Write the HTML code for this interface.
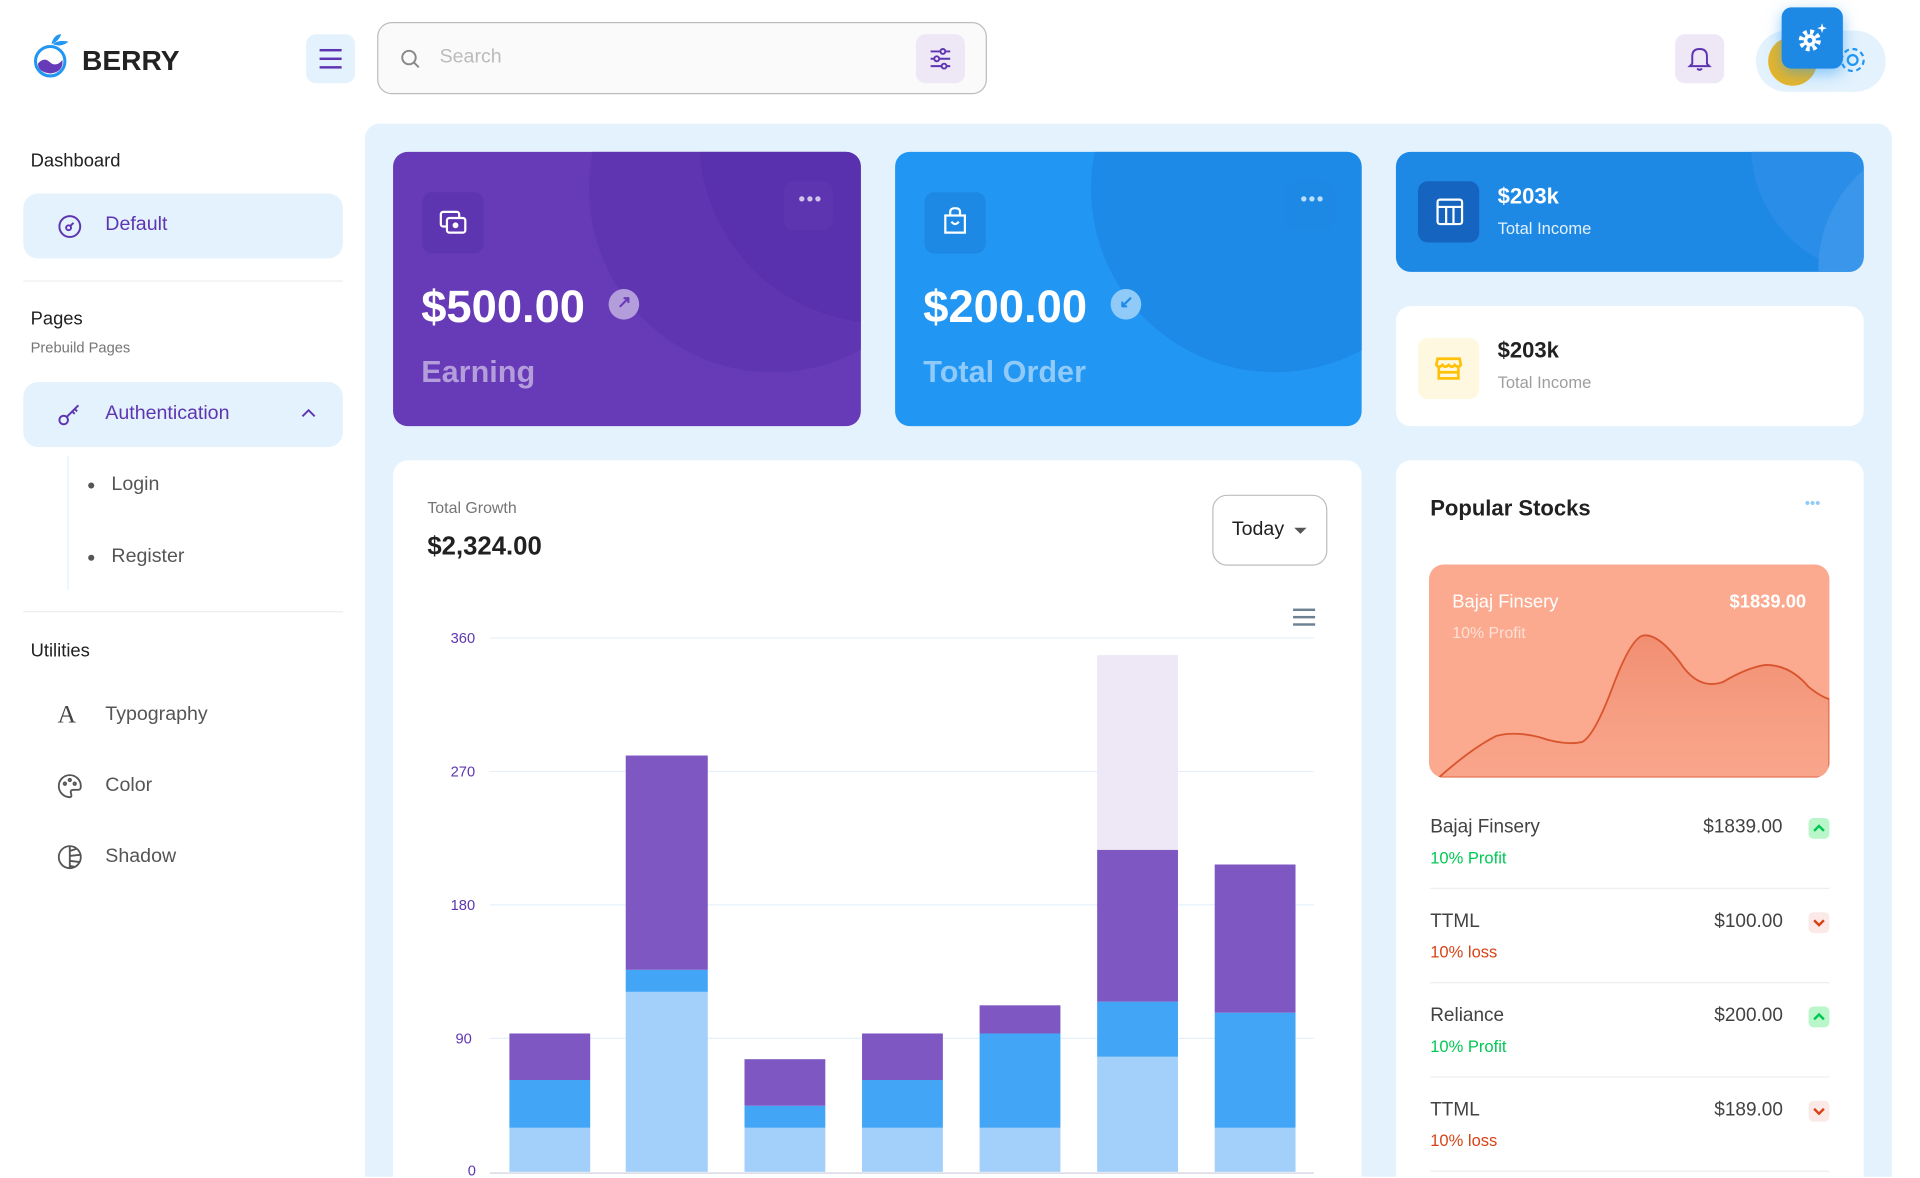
<!DOCTYPE html>
<html><head><meta charset="utf-8">
<style>
*{box-sizing:border-box;margin:0;padding:0}
html,body{width:1920px;height:1178px;overflow:hidden;background:#fff;font-family:"Liberation Sans",Arial,sans-serif}
#w{position:absolute;left:0;top:0;width:1568px;height:962px;overflow:hidden;transform:scale(1.2245);transform-origin:0 0}
.a{position:absolute}
.t{position:absolute;white-space:nowrap}
</style></head><body><div id="w">
<!-- header -->
<svg class="a" style="left:26px;top:26px" width="36" height="40" viewBox="0 0 36 40">
<circle cx="15" cy="24" r="12" fill="#fff" stroke="#2196f3" stroke-width="2.5"/>
<path d="M5 26 Q10 20 15 25 Q20 29 25 23 Q26 33 15 34 Q5 33 5 26Z" fill="#673ab7"/>
<path d="M16 10 Q18 2 24 2 Q22 8 16 10Z M17 10 Q22 6 30 8 Q24 13 17 10Z" fill="#2196f3"/>
</svg>
<div class="t" style="left:67px;top:36px;font-size:23px;font-weight:bold;color:#222">BERRY</div>
<div class="a" style="left:250px;top:28px;width:40px;height:40px;border-radius:8px;background:#e3f2fd"></div>
<div class="a" style="left:261px;top:40px;width:18px;height:2px;background:#5e35b1;box-shadow:0 7px 0 #5e35b1,0 14px 0 #5e35b1"></div>
<div class="a" style="left:308px;top:18px;width:498px;height:59px;border:1.5px solid #bdbdbd;border-radius:12px;background:#fafafa"></div>
<svg class="a" style="left:326px;top:39px" width="18" height="18"><circle cx="8" cy="8" r="5.5" fill="none" stroke="#888" stroke-width="1.6"/><path d="M12 12 L16 16" stroke="#888" stroke-width="1.6"/></svg>
<div class="t" style="left:359px;top:38px;font-size:16px;color:#bbb">Search</div>
<div class="a" style="left:748px;top:28px;width:40px;height:40px;border-radius:8px;background:#ede7f6"></div>
<svg class="a" style="left:758px;top:38px" width="20" height="20" stroke="#5e35b1" stroke-width="1.6" fill="none"><path d="M2 4H18M2 10H18M2 16H18"/><circle cx="12" cy="4" r="2" fill="#ede7f6"/><circle cx="7" cy="10" r="2" fill="#ede7f6"/><circle cx="13" cy="16" r="2" fill="#ede7f6"/></svg>
<div class="a" style="left:1368px;top:28px;width:40px;height:40px;border-radius:8px;background:#ede7f6"></div>
<svg class="a" style="left:1378px;top:37px" width="20" height="22" fill="none" stroke="#5e35b1" stroke-width="1.6"><path d="M4 15 V9 Q4 3 10 3 Q16 3 16 9 V15 L18 17 H2 Z"/><path d="M8 19 Q10 21 12 19"/></svg>
<div class="a" style="left:1434px;top:25px;width:106px;height:50px;border-radius:25px;background:#e3f2fd"></div>
<div class="a" style="left:1444px;top:30px;width:40px;height:40px;border-radius:50%;background:#e7b529"></div>
<svg class="a" style="left:1500px;top:36px" width="26" height="26" fill="none" stroke="#2196f3" stroke-width="1.8"><circle cx="13" cy="13" r="4"/><circle cx="13" cy="13" r="9" stroke-dasharray="4 3"/></svg>
<div class="a" style="left:1455px;top:6px;width:50px;height:50px;border-radius:8px;background:#1e88e5;box-shadow:0 4px 12px rgba(33,150,243,.5)"></div>
<svg class="a" style="left:1466px;top:17px" width="28" height="28"><circle cx="12" cy="16" r="7" fill="none" stroke="#fff" stroke-width="4" stroke-dasharray="3 2.5"/><circle cx="12" cy="16" r="5" fill="#fff"/><circle cx="12" cy="16" r="2" fill="#1e88e5"/><path d="M22 2 L23 5 L26 6 L23 7 L22 10 L21 7 L18 6 L21 5Z" fill="#fff"/></svg>

<!-- sidebar -->
<div class="t" style="left:25px;top:123px;font-size:15px;color:#212121">Dashboard</div>
<div class="a" style="left:19px;top:158px;width:261px;height:53px;border-radius:12px;background:#e3f2fd"></div>
<svg class="a" style="left:46px;top:174px" width="22" height="22" fill="none" stroke="#5e35b1" stroke-width="1.6"><circle cx="11" cy="11" r="8.5"/><circle cx="10" cy="12" r="2"/><path d="M11 11 L14 8"/></svg>
<div class="t" style="left:86px;top:175px;font-size:16px;color:#5e35b1">Default</div>
<div class="a" style="left:19px;top:229px;width:261px;height:1px;background:#eee"></div>
<div class="t" style="left:25px;top:252px;font-size:15px;color:#212121">Pages</div>
<div class="t" style="left:25px;top:277px;font-size:12px;color:#757575">Prebuild Pages</div>
<div class="a" style="left:19px;top:312px;width:261px;height:53px;border-radius:12px;background:#e3f2fd"></div>
<svg class="a" style="left:46px;top:327px" width="22" height="22" fill="none" stroke="#5e35b1" stroke-width="1.6"><circle cx="6" cy="16" r="3.5"/><path d="M8.5 13.5 L18 4 M15 7 L17 9 M13 9 L15 11"/></svg>
<div class="t" style="left:86px;top:329px;font-size:16px;color:#5e35b1">Authentication</div>
<svg class="a" style="left:246px;top:333px" width="12" height="10" fill="none" stroke="#5e35b1" stroke-width="1.6"><path d="M1 7 L6 2 L11 7"/></svg>
<div class="a" style="left:55px;top:372px;width:1px;height:110px;background:#e3f2fd"></div>
<div class="a" style="left:72px;top:394px;width:5px;height:5px;border-radius:50%;background:#555"></div>
<div class="t" style="left:91px;top:387px;font-size:16px;color:#555">Login</div>
<div class="a" style="left:72px;top:453px;width:5px;height:5px;border-radius:50%;background:#555"></div>
<div class="t" style="left:91px;top:446px;font-size:16px;color:#555">Register</div>
<div class="a" style="left:19px;top:499px;width:261px;height:1px;background:#eee"></div>
<div class="t" style="left:25px;top:523px;font-size:15px;color:#212121">Utilities</div>
<div class="t" style="left:47px;top:571px;font-size:21px;color:#444;font-family:'Liberation Serif',serif">A</div>
<div class="t" style="left:86px;top:575px;font-size:16px;color:#555">Typography</div>
<svg class="a" style="left:46px;top:631px" width="22" height="22" fill="none" stroke="#555" stroke-width="1.5"><path d="M11 2 A9 9 0 1 0 11 20 Q13 20 12 17 Q11 14 14 14 H18 Q20 14 20 11 A9 9 0 0 0 11 2Z"/><circle cx="7" cy="9" r="1"/><circle cx="11" cy="6" r="1"/><circle cx="15" cy="9" r="1"/></svg>
<div class="t" style="left:86px;top:633px;font-size:16px;color:#555">Color</div>
<svg class="a" style="left:46px;top:689px" width="22" height="22" fill="none" stroke="#555" stroke-width="1.5"><circle cx="11" cy="11" r="9"/><path d="M11 2 V20 M11 6 L17 4 M11 10 L20 9 M11 14 L19 15 M11 18 L15 19"/></svg>
<div class="t" style="left:86px;top:691px;font-size:16px;color:#555">Shadow</div>

<!-- main -->
<div class="a" style="left:298px;top:101px;width:1247px;height:860px;border-radius:12px 12px 0 0;background:#e3f2fd"></div>

<!-- earning card -->
<div class="a" style="left:321px;top:124px;width:382px;height:224px;border-radius:12px;background:#673ab7;overflow:hidden">
 <div class="a" style="left:160px;top:-120px;width:300px;height:300px;border-radius:50%;background:#5e35b1;opacity:.9"></div>
 <div class="a" style="left:250px;top:-160px;width:300px;height:300px;border-radius:50%;background:#512da8;opacity:.4"></div>
 <div class="a" style="left:24px;top:33px;width:50px;height:50px;border-radius:8px;background:#5e35b1"></div>
 <svg class="a" style="left:37px;top:46px" width="24" height="24" fill="none" stroke="#fff" stroke-width="1.8"><rect x="2" y="3" width="15" height="12" rx="2"/><rect x="7" y="8" width="15" height="12" rx="2" fill="#5e35b1"/><circle cx="14" cy="14" r="1.5" fill="#fff"/></svg>
 <div class="a" style="left:319px;top:24px;width:40px;height:40px;border-radius:8px;background:#5e35b1"></div>
 <div class="t" style="left:331px;top:31px;font-size:16px;color:#d1c4e9;letter-spacing:1px">•••</div>
 <div class="t" style="left:23px;top:106px;font-size:37px;font-weight:bold;color:#fff">$500.00</div>
 <div class="a" style="left:176px;top:112px;width:25px;height:25px;border-radius:50%;background:#b39ddb"></div>
 <div class="t" style="left:183px;top:114px;font-size:14px;color:#673ab7;font-weight:bold">↗</div>
 <div class="t" style="left:23px;top:166px;font-size:25px;font-weight:bold;color:#b39ddb">Earning</div>
</div>

<!-- order card -->
<div class="a" style="left:731px;top:124px;width:381px;height:224px;border-radius:12px;background:#2196f3;overflow:hidden">
 <div class="a" style="left:160px;top:-120px;width:300px;height:300px;border-radius:50%;background:#1e88e5;opacity:.9"></div>
 <div class="a" style="left:24px;top:33px;width:50px;height:50px;border-radius:8px;background:#1e88e5"></div>
 <svg class="a" style="left:37px;top:44px" width="24" height="26" fill="none" stroke="#fff" stroke-width="1.8"><path d="M4 8 H20 V22 H4 Z M8 8 V5 Q8 2 12 2 Q16 2 16 5 V8 M9 13 Q12 17 15 13"/></svg>
 <div class="a" style="left:319px;top:24px;width:40px;height:40px;border-radius:8px;background:#1e88e5"></div>
 <div class="t" style="left:331px;top:31px;font-size:16px;color:#bbdefb;letter-spacing:1px">•••</div>
 <div class="t" style="left:23px;top:106px;font-size:37px;font-weight:bold;color:#fff">$200.00</div>
 <div class="a" style="left:176px;top:112px;width:25px;height:25px;border-radius:50%;background:#90caf9"></div>
 <div class="t" style="left:183px;top:114px;font-size:14px;color:#1e88e5;font-weight:bold">↙</div>
 <div class="t" style="left:23px;top:166px;font-size:25px;font-weight:bold;color:#90caf9">Total Order</div>
</div>

<!-- income cards -->
<div class="a" style="left:1140px;top:124px;width:382px;height:98px;border-radius:12px;background:#1e88e5;overflow:hidden">
 <div class="a" style="left:290px;top:-110px;width:210px;height:210px;border-radius:50%;background:#2a8ee8"></div>
 <div class="a" style="left:345px;top:-10px;width:210px;height:210px;border-radius:50%;background:#3a96ea"></div>
 <div class="a" style="left:18px;top:24px;width:50px;height:50px;border-radius:8px;background:#1565c0"></div>
 <svg class="a" style="left:32px;top:37px" width="24" height="24" fill="none" stroke="#fff" stroke-width="1.8"><rect x="2" y="2" width="20" height="20" rx="2"/><path d="M2 8 H22 M9 8 V22 M15 8 V22"/></svg>
 <div class="t" style="left:83px;top:26px;font-size:18px;font-weight:bold;color:#fff">$203k</div>
 <div class="t" style="left:83px;top:55px;font-size:13.5px;color:#e3f2fd">Total Income</div>
</div>
<div class="a" style="left:1140px;top:250px;width:382px;height:98px;border-radius:12px;background:#fff">
 <div class="a" style="left:18px;top:26px;width:50px;height:50px;border-radius:8px;background:#fff8e1"></div>
 <svg class="a" style="left:31px;top:38px" width="24" height="24" fill="none" stroke="#ffc107" stroke-width="2.2"><path d="M3 5 H21 L22 10 Q20 13 17 10 Q15 13 12 10 Q9 13 7 10 Q4 13 2 10 Z M4 12 V21 H20 V12 M4 16 H20"/></svg>
 <div class="t" style="left:83px;top:26px;font-size:18px;font-weight:bold;color:#212121">$203k</div>
 <div class="t" style="left:83px;top:55px;font-size:13.5px;color:#9e9e9e">Total Income</div>
</div>

<!-- growth chart -->
<div class="a" style="left:321px;top:376px;width:791px;height:585px;border-radius:12px 12px 0 0;background:#fff"></div>
<div class="t" style="left:349px;top:407px;font-size:13px;color:#757575">Total Growth</div>
<div class="t" style="left:349px;top:435px;font-size:21px;font-weight:bold;color:#212121">$2,324.00</div>
<div class="a" style="left:990px;top:404px;width:94px;height:58px;border:1px solid #bdbdbd;border-radius:12px;background:#fff"></div>
<div class="t" style="left:1006px;top:424px;font-size:16px;color:#212121">Today</div>
<div class="a" style="left:1057px;top:431px;width:0;height:0;border-left:5px solid transparent;border-right:5px solid transparent;border-top:5px solid #555"></div>
<div class="a" style="left:1056px;top:497px;width:18px;height:2px;background:#6e8192;box-shadow:0 6px 0 #6e8192,0 12px 0 #6e8192"></div>
<svg class="a" style="left:340px;top:500px" width="760" height="460" font-family="Liberation Sans, Arial, sans-serif" font-size="12" fill="#5e35b1">
 <g stroke="#e6f0fb" stroke-width="1">
  <line x1="60" y1="21" x2="733" y2="21"/><line x1="60" y1="130" x2="733" y2="130"/><line x1="60" y1="239" x2="733" y2="239"/><line x1="60" y1="348" x2="733" y2="348"/>
 </g>
 <line x1="60" y1="458" x2="733" y2="458" stroke="#ccd" stroke-width="1"/>
 <text x="28" y="25">360</text><text x="28" y="134">270</text><text x="28" y="243">180</text><text x="32" y="352">90</text><text x="42" y="460">0</text>
 <g transform="translate(-340,-500)">
  <rect x="416" y="921" width="66" height="36" fill="#a2d0fa"/><rect x="416" y="882" width="66" height="39" fill="#42a5f5"/><rect x="416" y="844" width="66" height="38" fill="#7e57c2"/>
  <rect x="511" y="810" width="67" height="147" fill="#a2d0fa"/><rect x="511" y="792" width="67" height="18" fill="#42a5f5"/><rect x="511" y="617" width="67" height="175" fill="#7e57c2"/>
  <rect x="608" y="921" width="66" height="36" fill="#a2d0fa"/><rect x="608" y="903" width="66" height="18" fill="#42a5f5"/><rect x="608" y="865" width="66" height="38" fill="#7e57c2"/>
  <rect x="704" y="921" width="66" height="36" fill="#a2d0fa"/><rect x="704" y="882" width="66" height="39" fill="#42a5f5"/><rect x="704" y="844" width="66" height="38" fill="#7e57c2"/>
  <rect x="800" y="921" width="66" height="36" fill="#a2d0fa"/><rect x="800" y="844" width="66" height="77" fill="#42a5f5"/><rect x="800" y="821" width="66" height="23" fill="#7e57c2"/>
  <rect x="896" y="863" width="66" height="94" fill="#a2d0fa"/><rect x="896" y="818" width="66" height="45" fill="#42a5f5"/><rect x="896" y="694" width="66" height="124" fill="#7e57c2"/><rect x="896" y="535" width="66" height="159" fill="#ede7f6"/>
  <rect x="992" y="921" width="66" height="36" fill="#a2d0fa"/><rect x="992" y="827" width="66" height="94" fill="#42a5f5"/><rect x="992" y="706" width="66" height="121" fill="#7e57c2"/>
 </g>
</svg>

<!-- popular stocks -->
<div class="a" style="left:1140px;top:376px;width:382px;height:585px;border-radius:12px 12px 0 0;background:#fff"></div>
<div class="t" style="left:1168px;top:405px;font-size:18px;font-weight:bold;color:#212121">Popular Stocks</div>
<div class="t" style="left:1474px;top:404px;font-size:12px;color:#90caf9;letter-spacing:0px">•••</div>
<div class="a" style="left:1167px;top:461px;width:327px;height:174px;border-radius:12px;background:#fbaa8f;overflow:hidden">
 <svg class="a" style="left:0;top:0" width="327" height="174">
  <defs><linearGradient id="g" x1="0" y1="0" x2="0" y2="1"><stop offset="0" stop-color="#e8775a" stop-opacity=".55"/><stop offset="1" stop-color="#f59b82" stop-opacity=".3"/></linearGradient></defs>
  <path d="M8 174 Q35 150 55 140 Q70 136 90 141 Q110 148 125 145 Q135 140 150 100 Q165 60 175 58 Q187 56 205 80 Q220 103 240 96 Q260 84 275 82 Q295 82 310 100 Q320 108 327 110 L327 174Z" fill="url(#g)" stroke="#d9552f" stroke-width="1.5"/>
 </svg>
 <div class="t" style="left:19px;top:22px;font-size:15px;color:#fff">Bajaj Finsery</div>
 <div class="t" style="right:19px;top:22px;font-size:15px;font-weight:bold;color:#fff">$1839.00</div>
 <div class="t" style="left:19px;top:48px;font-size:13px;color:#fde0d6">10% Profit</div>
</div>
<!-- list -->
<div class="t" style="left:1168px;top:667px;font-size:15.5px;color:#424242">Bajaj Finsery</div>
<div class="t" style="left:1168px;top:693px;font-size:13.5px;color:#00c853">10% Profit</div>
<div class="t" style="left:1391px;top:667px;font-size:15.5px;color:#424242">$1839.00</div>
<div class="a" style="left:1477px;top:668px;width:17px;height:17px;border-radius:4px;background:#b9f6ca"></div>
<svg class="a" style="left:1480px;top:671px" width="11" height="11" fill="none" stroke="#00c853" stroke-width="2"><path d="M1.5 7.5 L5.5 3.5 L9.5 7.5"/></svg>
<div class="a" style="left:1168px;top:725px;width:326px;height:1px;background:#eee"></div>

<div class="t" style="left:1168px;top:744px;font-size:15.5px;color:#424242">TTML</div>
<div class="t" style="left:1168px;top:770px;font-size:13.5px;color:#d84315">10% loss</div>
<div class="t" style="left:1400px;top:744px;font-size:15.5px;color:#424242">$100.00</div>
<div class="a" style="left:1477px;top:745px;width:17px;height:17px;border-radius:4px;background:#fbe9e7"></div>
<svg class="a" style="left:1480px;top:748px" width="11" height="11" fill="none" stroke="#d84315" stroke-width="2"><path d="M1.5 3.5 L5.5 7.5 L9.5 3.5"/></svg>
<div class="a" style="left:1168px;top:802px;width:326px;height:1px;background:#eee"></div>

<div class="t" style="left:1168px;top:821px;font-size:15.5px;color:#424242">Reliance</div>
<div class="t" style="left:1168px;top:847px;font-size:13.5px;color:#00c853">10% Profit</div>
<div class="t" style="left:1400px;top:821px;font-size:15.5px;color:#424242">$200.00</div>
<div class="a" style="left:1477px;top:822px;width:17px;height:17px;border-radius:4px;background:#b9f6ca"></div>
<svg class="a" style="left:1480px;top:825px" width="11" height="11" fill="none" stroke="#00c853" stroke-width="2"><path d="M1.5 7.5 L5.5 3.5 L9.5 7.5"/></svg>
<div class="a" style="left:1168px;top:879px;width:326px;height:1px;background:#eee"></div>

<div class="t" style="left:1168px;top:898px;font-size:15.5px;color:#424242">TTML</div>
<div class="t" style="left:1168px;top:924px;font-size:13.5px;color:#d84315">10% loss</div>
<div class="t" style="left:1400px;top:898px;font-size:15.5px;color:#424242">$189.00</div>
<div class="a" style="left:1477px;top:899px;width:17px;height:17px;border-radius:4px;background:#fbe9e7"></div>
<svg class="a" style="left:1480px;top:902px" width="11" height="11" fill="none" stroke="#d84315" stroke-width="2"><path d="M1.5 3.5 L5.5 7.5 L9.5 3.5"/></svg>
<div class="a" style="left:1168px;top:956px;width:326px;height:1px;background:#eee"></div>
</div></body></html>
